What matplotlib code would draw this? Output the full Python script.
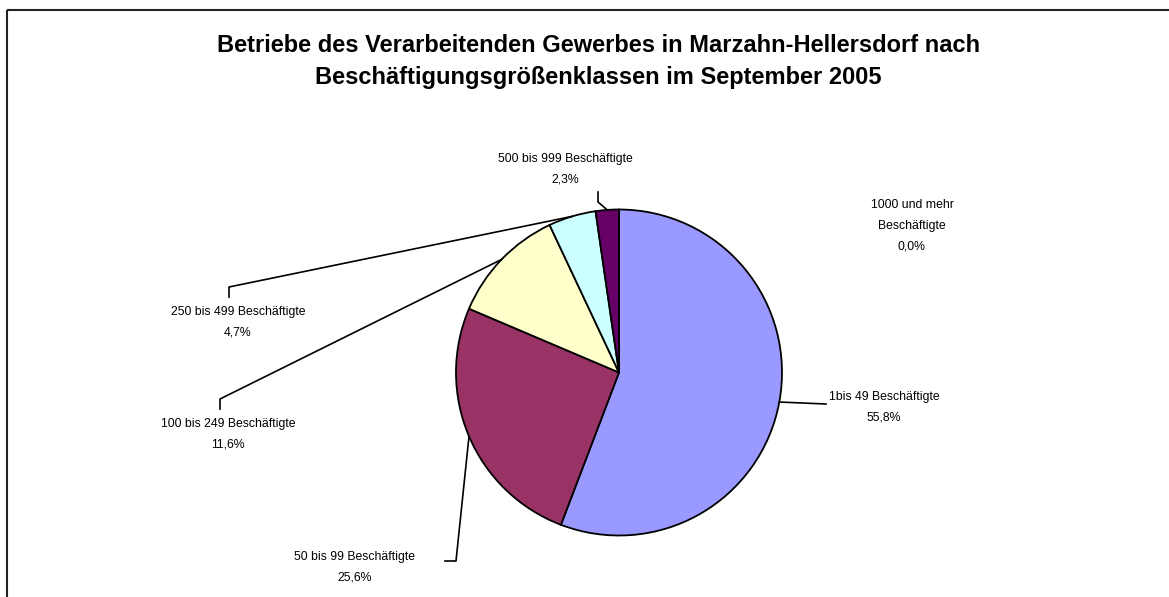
import numpy as np
import matplotlib.pyplot as plt

plt.rcParams['font.family'] = ['Liberation Sans', 'DejaVu Sans']

# Daten
klassen = ['1bis 49 Beschäftigte', '50 bis 99 Beschäftigte', '100 bis 249 Beschäftigte',
           '250 bis 499 Beschäftigte', '500 bis 999 Beschäftigte',
           '1000 und mehr\nBeschäftigte']
anteile = [55.8, 25.6, 11.6, 4.7, 2.3, 0.0]
farben = ['#9999FF', '#993366', '#FFFFCC', '#CCFFFF', '#660066', '#FF8080']

W, H = 1169, 597
fig = plt.figure(figsize=(W / 100, H / 100), dpi=100)
ax = fig.add_axes([0, 0, 1, 1])

cx, cy, r = 619, H - 372.5, 163
wedges, _ = ax.pie(anteile, colors=farben, startangle=90, counterclock=False,
                   center=(cx, cy), radius=r,
                   wedgeprops=dict(edgecolor='black', linewidth=1.3))
ax.set_xlim(0, W)
ax.set_ylim(0, H)
ax.set_aspect('equal')
ax.axis('off')

# Rahmen (links und oben)
ax.plot([7, 7], [0, H - 10], color='#222222', lw=1.5, solid_capstyle='butt')
ax.plot([7, W], [H - 10, H - 10], color='#222222', lw=1.5, solid_capstyle='butt')

fig.text(0.512, 1 - 61.5 / H,
         'Betriebe des Verarbeitenden Gewerbes in Marzahn-Hellersdorf nach\n'
         'Beschäftigungsgrößenklassen im September 2005',
         ha='center', va='center', fontsize=17, fontweight='bold', linespacing=1.5)

# Beschriftungen: Textmitte (x, y in Pixel von oben) und Knickpunkte der Führungslinie
label_pos = [(884, 407), (355, 567), (228, 434), (238, 322), (565, 169), (912, 226)]
leader = [[(826, 404)],
          [(456, 561), (445, 561)],
          [(220, 399), (220, 409)],
          [(229, 287), (229, 297)],
          [(598, 202), (598, 192)],
          None]

cum = np.cumsum([0] + anteile)
total = sum(anteile)
for i, (name, wert) in enumerate(zip(klassen, anteile)):
    lx, ly = label_pos[i]
    txt = f"{name}\n{wert:.1f}%".replace('.', ',')
    ax.text(lx, H - ly, txt, ha='center', va='center', fontsize=8.8, linespacing=1.95)
    if leader[i] is None:
        continue
    mid = (cum[i] + cum[i + 1]) / 2 / total
    ang = np.deg2rad(90 - mid * 360)
    px = [cx + r * np.cos(ang)] + [p[0] for p in leader[i]]
    py = [cy + r * np.sin(ang)] + [H - p[1] for p in leader[i]]
    ax.plot(px, py, color='black', lw=1.2)

fig.savefig('out.png', dpi=100)
